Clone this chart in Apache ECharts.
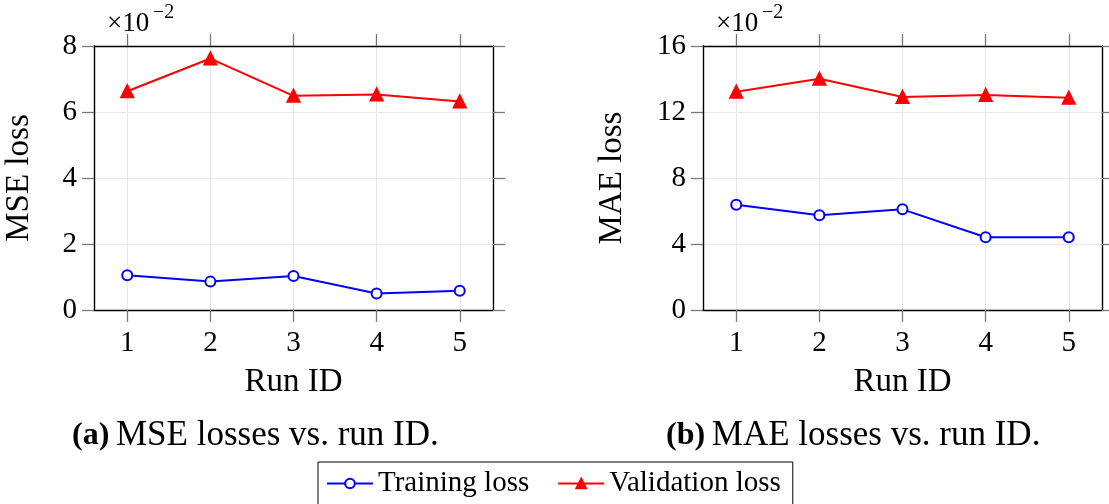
<!DOCTYPE html>
<html>
<head>
<meta charset="utf-8">
<script src="https://cdn.jsdelivr.net/npm/echarts@6/dist/echarts.min.js"></script>
<style>
  html, body { margin: 0; padding: 0; background: #fff; }
  #chart { width: 1109px; height: 504px; }
</style>
</head>
<body>
<div id="chart"></div>
<script>
// Run identifiers on the x axis
const runIds = [1, 2, 3, 4, 5];
// MSE losses (x 10^-2)
const mseTraining = [1.05, 0.86, 1.03, 0.50, 0.58];
const mseValidation = [6.63, 7.62, 6.49, 6.53, 6.32];
// MAE losses (x 10^-2)
const maeTraining = [6.38, 5.74, 6.10, 4.41, 4.41];
const maeValidation = [13.23, 14.02, 12.91, 13.03, 12.87];
// Tick labels
const mseTicks = [0, 2, 4, 6, 8];
const maeTicks = [0, 4, 8, 12, 16];

const FONT = 'Liberation Serif';
const BLUE = '#0000ff';
const RED = '#ff0000';

const pairs = (ys) => runIds.map((x, i) => [x, ys[i]]);

function xAxes(gridIndex) {
  const base = {
    gridIndex, type: 'value', min: 0.6, max: 5.4,
    axisLine: { show: true, onZero: false, lineStyle: { color: '#000', width: 1.4 } },
    axisTick: { show: true, inside: false, length: 12, customValues: runIds,
                lineStyle: { color: '#7a7a7a', width: 1.3 } }
  };
  return [
    Object.assign({}, base, {
      position: 'bottom',
      name: 'Run ID', nameLocation: 'middle', nameGap: 56,
      nameTextStyle: { fontFamily: FONT, fontSize: 33, color: '#000' },
      axisLabel: { customValues: runIds, fontFamily: FONT, fontSize: 29, color: '#000', margin: 19 },
      splitLine: { show: true, lineStyle: { color: '#e8e8e8', width: 1 } }
    }),
    Object.assign({}, base, {
      position: 'top',
      axisLabel: { show: false },
      splitLine: { show: false }
    })
  ];
}

function yAxes(gridIndex, ticks, name, nameGap) {
  const step = ticks[1] - ticks[0];
  const base = {
    gridIndex, type: 'value', min: ticks[0], max: ticks[ticks.length - 1], interval: step,
    axisLine: { show: true, onZero: false, lineStyle: { color: '#000', width: 1.4 } },
    axisTick: { show: true, inside: false, length: 12, lineStyle: { color: '#7a7a7a', width: 1.3 } }
  };
  return [
    Object.assign({}, base, {
      position: 'left',
      name, nameLocation: 'middle', nameGap,
      nameTextStyle: { fontFamily: FONT, fontSize: 33, color: '#000' },
      axisLabel: { fontFamily: FONT, fontSize: 29, color: '#000', margin: 17 },
      splitLine: { show: true, lineStyle: { color: '#e8e8e8', width: 1 } }
    }),
    Object.assign({}, base, {
      position: 'right',
      axisLabel: { show: false },
      splitLine: { show: false }
    })
  ];
}

function lineSeries(name, data, xi, yi, color, symbol, size) {
  return {
    name, type: 'line', data, xAxisIndex: xi, yAxisIndex: yi,
    symbol, symbolSize: size, showSymbol: true,
    lineStyle: { color, width: 2 },
    itemStyle: { color, borderColor: color, borderWidth: 2 },
    animation: false
  };
}

function exponent(x, y) {
  return [
    { type: 'text', left: x, top: y + 7,
      style: { text: '×10', fontFamily: FONT, fontSize: 27, fill: '#000' } },
    { type: 'text', left: x + 46, top: y,
      style: { text: '−2', fontFamily: FONT, fontSize: 20, fill: '#000' } }
  ];
}

function caption(letter, text, x, y) {
  return {
    type: 'text', left: x, top: y,
    style: {
      text: '{b|(' + letter + ')}  {n|' + text + '}',
      rich: {
        b: { fontFamily: FONT, fontSize: 32, fontWeight: 'bold', fill: '#000' },
        n: { fontFamily: FONT, fontSize: 35, fill: '#000' }
      }
    }
  };
}

const chart = echarts.init(document.getElementById('chart'), null, { renderer: 'canvas' });
chart.setOption({
  backgroundColor: '#fff',
  animation: false,
  grid: [
    { left: 94, top: 46, width: 399, height: 264 },
    { left: 703, top: 46, width: 399, height: 264 }
  ],
  xAxis: [...xAxes(0), ...xAxes(1)],
  yAxis: [...yAxes(0, mseTicks, 'MSE loss', 58), ...yAxes(1, maeTicks, 'MAE loss', 74)],
  legend: {
    data: ['Training loss', 'Validation loss'],
    left: 318, top: 462, orient: 'horizontal',
    itemWidth: 46, itemHeight: 12, itemGap: 28,
    borderColor: '#000', borderWidth: 1, borderRadius: 0,
    padding: [7, 12, 14, 8],
    textStyle: { fontFamily: FONT, fontSize: 29, color: '#000' }
  },
  series: [
    lineSeries('Training loss', pairs(mseTraining), 0, 0, BLUE, 'emptyCircle', 10),
    lineSeries('Validation loss', pairs(mseValidation), 0, 0, RED, 'triangle', 12),
    lineSeries('Training loss', pairs(maeTraining), 2, 2, BLUE, 'emptyCircle', 10),
    lineSeries('Validation loss', pairs(maeValidation), 2, 2, RED, 'triangle', 12)
  ],
  graphic: [
    ...exponent(107, 3),
    ...exponent(716, 3),
    caption('a', 'MSE losses vs. run ID.', 72, 418),
    caption('b', 'MAE losses vs. run ID.', 666, 418)
  ]
});
</script>
</body>
</html>
